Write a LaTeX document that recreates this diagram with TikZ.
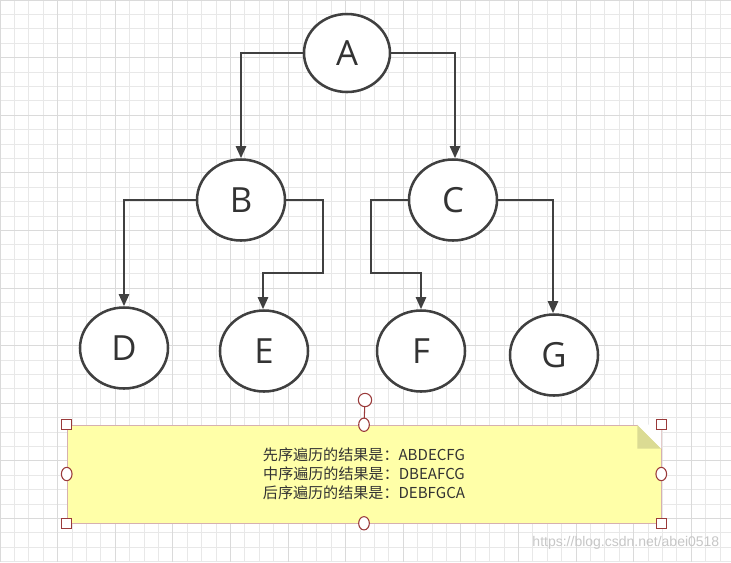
\documentclass[tikz,border=0pt]{standalone}
\usepackage{fontspec}
\setmainfont{Open Sans}
\newfontfamily\cjk{Noto Sans CJK SC}
\newfontfamily\wm{Liberation Sans}
\usetikzlibrary{arrows.meta}
\definecolor{gridc}{HTML}{E8E8E8}
\definecolor{gridd}{HTML}{DADADA}
\definecolor{notefill}{HTML}{FFFFA8}
\definecolor{noteline}{HTML}{D6B0B0}
\definecolor{handle}{HTML}{9A3A3A}
\tikzset{
  tn/.style={draw=black!75,line width=1.9pt,fill=white,minimum width=88*0.75pt,minimum height=81*0.75pt,inner sep=0pt,font=\fontsize{26}{26}\selectfont,text=black!80},
  edge/.style={draw=black!75,line width=1.7pt,-{Triangle[length=9pt,width=7.5pt]}},
  hsq/.style={draw=handle,fill=white,line width=0.8pt,minimum size=7.5pt,inner sep=0pt,shape=rectangle},
  hci/.style={draw=handle,fill=white,line width=0.8pt,shape=ellipse,minimum width=8pt,minimum height=10pt,inner sep=0pt},
}
\usetikzlibrary{shapes.geometric}
\begin{document}
\begin{tikzpicture}[x=0.75pt,y=-0.75pt]
\useasboundingbox (0,0) rectangle (731,562);
\fill[white] (0,0) rectangle (731,562);
\foreach \i in {0,...,51} {\draw[gridc,line width=0.5pt] (\i*14.4,0) -- (\i*14.4,562);}
\foreach \i in {0,...,39} {\draw[gridc,line width=0.5pt] (0,\i*14.4) -- (731,\i*14.4);}
\foreach \i in {0,...,12} {\draw[gridd,line width=0.7pt] (\i*57.6,0) -- (\i*57.6,562);}
\foreach \i in {0,...,9} {\draw[gridd,line width=0.7pt] (0,\i*57.6) -- (731,\i*57.6);}

\node[tn,shape=ellipse,minimum width=86*0.75pt,minimum height=78*0.75pt] (A) at (347,53) {A};
\node[tn,shape=ellipse] (B) at (241,200) {B};
\node[tn,shape=ellipse] (C) at (453,200) {C};
\node[tn,shape=ellipse] (D) at (124,348) {D};
\node[tn,shape=ellipse] (E) at (264,351) {E};
\node[tn,shape=ellipse] (F) at (421,351) {F};
\node[tn,shape=ellipse] (G) at (554,355) {G};

\draw[edge] (A.west) -| (B.north);
\draw[edge] (A.east) -| ([xshift=1.5pt]C.north);
\draw[edge] (B.west) -| (D.north);
\draw[edge] (B.east) -- ++(37,0) |- (263,273) -- ([xshift=-0.75pt]E.north);
\draw[edge] (C.west) -- ++(-37,0) |- (421,273) -- (F.north);
\draw[edge] (C.east) -| ([xshift=-0.75pt]G.north);

\node[draw=noteline,fill=notefill,minimum width=594*0.75pt,minimum height=98*0.75pt,inner sep=0pt,
  align=center,font=\cjk\fontsize{11.3}{14.3}\selectfont,text=black!80] (N) at (364,474)
  {先序遍历的结果是：ABDECFG\\中序遍历的结果是：DBEAFCG\\后序遍历的结果是：DEBFGCA};
\fill[notefill!60!olive!70] ([xshift=-18]N.north east) -- ([yshift=-18]N.north east) -- ([xshift=-18,yshift=-18]N.north east) -- cycle;
\fill[white] ([xshift=-18]N.north east) -- (N.north east) -- ([yshift=-18]N.north east) -- cycle;
\coordinate (R) at (365,400);
\draw[handle,line width=0.8pt] (N.north) -- (R);
\node[hci,minimum width=10pt] at (R) {};
\foreach \a in {north west,north east,south west,south east} \node[hsq] at (N.\a) {};
\foreach \a in {north,south,west,east} \node[hci] at (N.\a) {};
\node[anchor=east,text=black!22,font=\wm\fontsize{10.5}{12}\selectfont] (W) at (724,543) {https://blog.csdn.net/abei0518};
\end{tikzpicture}
\end{document}
